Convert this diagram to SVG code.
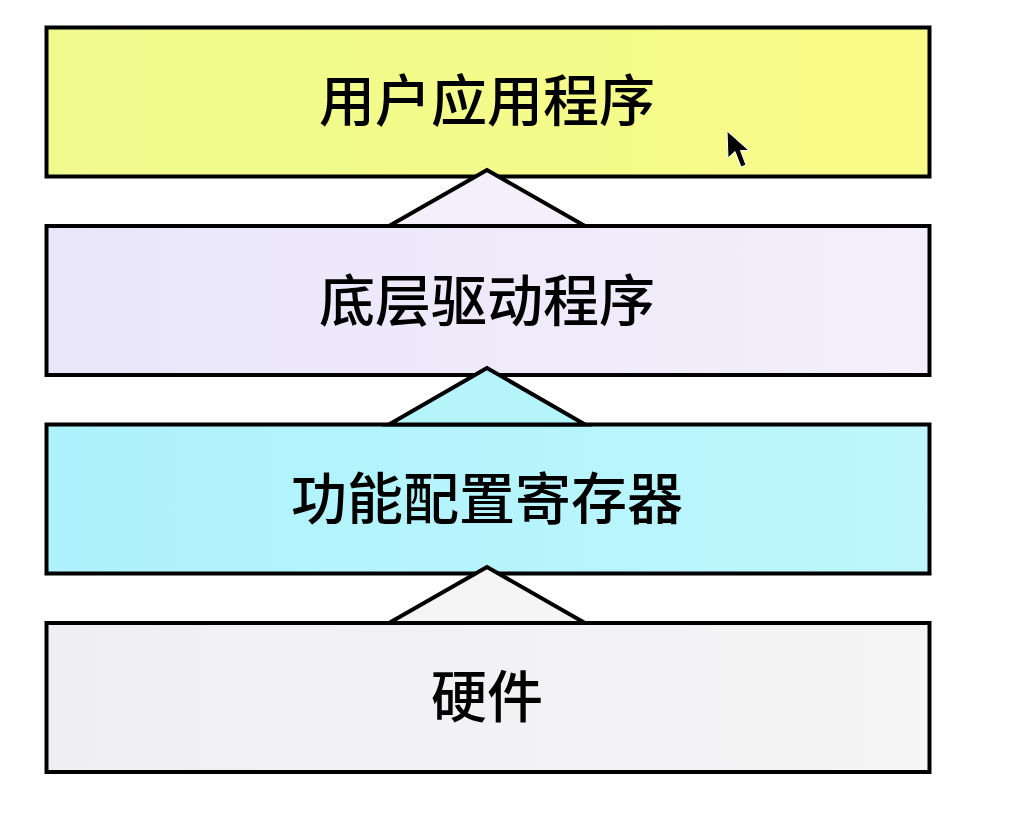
<svg xmlns="http://www.w3.org/2000/svg" width="1024" height="829" viewBox="0 0 1024 829">
  <style>
    .box { stroke: #000; stroke-width: 4; }
    .lbl { font-family: "Noto Sans CJK SC", "Noto Sans", sans-serif; font-size: 56px; font-weight: 500; fill: #000; text-anchor: middle; }
    .tri { stroke: #000; stroke-width: 4; stroke-linejoin: miter; }
  </style>
  <defs>
    <linearGradient id="gY" x1="0" y1="0" x2="1" y2="0">
      <stop offset="0" stop-color="#eefb8c"/>
      <stop offset="1" stop-color="#f9fb88"/>
    </linearGradient>
    <linearGradient id="gL" x1="0" y1="0" x2="1" y2="0">
      <stop offset="0" stop-color="#e9e6fa"/>
      <stop offset="1" stop-color="#f3eefa"/>
    </linearGradient>
    <linearGradient id="gC" x1="0" y1="0" x2="1" y2="0">
      <stop offset="0" stop-color="#adf2fc"/>
      <stop offset="1" stop-color="#bef6fc"/>
    </linearGradient>
    <linearGradient id="gG" x1="0" y1="0" x2="1" y2="0">
      <stop offset="0" stop-color="#efeff2"/>
      <stop offset="1" stop-color="#f5f5f6"/>
    </linearGradient>
  </defs>
  <rect width="1024" height="829" fill="#fff"/>
  <g id="node-app">
    <rect class="box" x="46.5" y="27.5" width="883" height="149" fill="url(#gY)"/>
    <text class="lbl" x="487" y="121">用户应用程序</text>
  </g>
  <g id="node-driver">
    <rect class="box" x="46.5" y="226" width="883" height="149" fill="url(#gL)"/>
    <text class="lbl" x="487" y="321">底层驱动程序</text>
  </g>
  <g id="node-register">
    <rect class="box" x="46.5" y="424.5" width="883" height="149" fill="url(#gC)"/>
    <text class="lbl" x="487" y="519">功能配置寄存器</text>
  </g>
  <g id="node-hardware">
    <rect class="box" x="46.5" y="623" width="883" height="149" fill="url(#gG)"/>
    <text class="lbl" x="487" y="717">硬件</text>
  </g>
  <g id="connectors">
    <polygon class="tri" points="487,170 389,226 585,226" fill="#f4f0fb"/>
    <polygon class="tri" points="487,368 389,424.5 585,424.5" fill="#b6f4fc"/>
    <polygon class="tri" points="487,567 389,623 585,623" fill="#f5f5f6"/>
  </g>
  <path d="M727,131 L728,158 L735,151.5 L741,167 L746,165 L740.5,150.5 L749,150.5 Z" fill="#000" stroke="#fff" stroke-width="1"/>
</svg>
